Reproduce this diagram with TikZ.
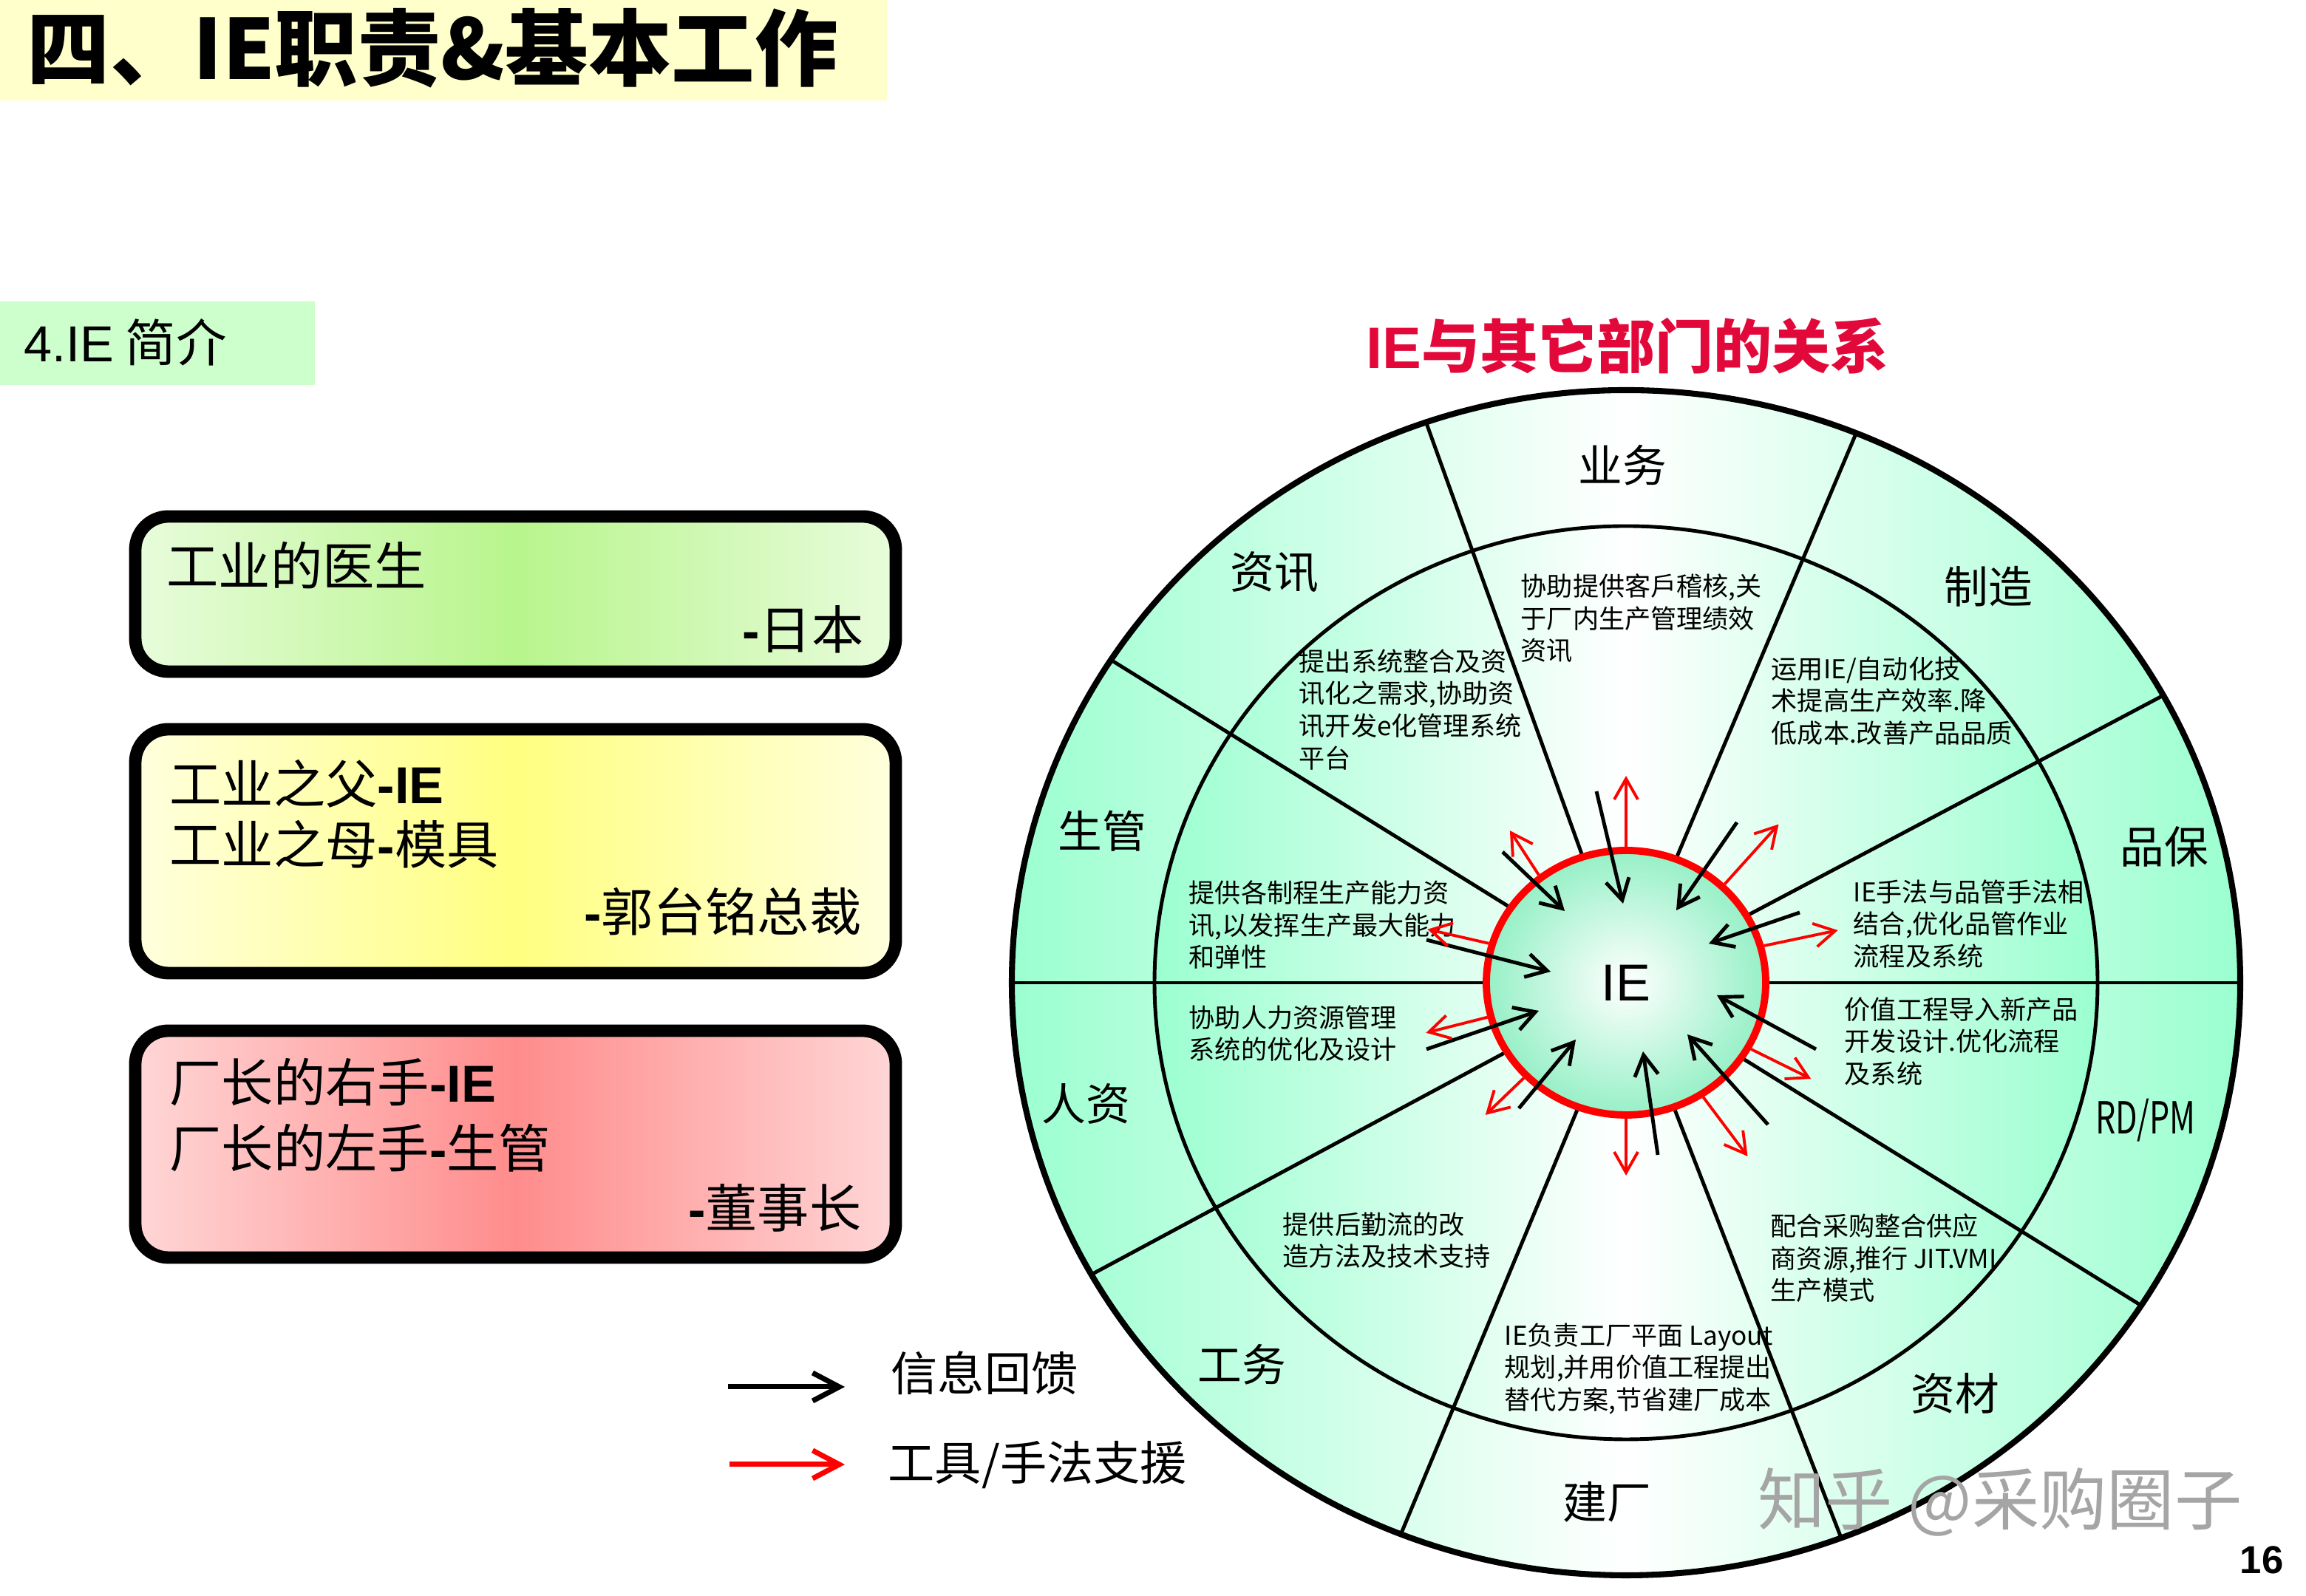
\documentclass[tikz,border=0pt]{standalone}
\usepackage{fontspec}
\usepackage{graphicx}
\setmainfont{Noto Sans CJK SC}
\newfontfamily\arial{Liberation Sans}
\usetikzlibrary{arrows.meta,shapes.geometric}

\definecolor{mint}{RGB}{155,255,208}
\definecolor{iemint}{RGB}{150,240,198}
\definecolor{titleyellow}{RGB}{255,255,204}
\definecolor{introgreen}{RGB}{204,255,204}
\definecolor{titlered}{RGB}{226,8,58}
\definecolor{greenmid}{RGB}{184,245,140}
\definecolor{greenedge}{RGB}{232,252,220}
\definecolor{yellowmid}{RGB}{255,255,128}
\definecolor{yellowedge}{RGB}{255,255,222}
\definecolor{redmid}{RGB}{255,140,140}
\definecolor{rededge}{RGB}{255,214,214}
\definecolor{markgray}{RGB}{165,165,165}

\begin{document}
\begin{tikzpicture}[
        >={Straight Barb[length=2.8mm,width=3.2mm]},
        spoke/.style={line width=1.4pt},
        info/.style={->,line width=1.4pt},
        tool/.style={->,red,line width=1.1pt},
        card/.style={draw,line width=4.8pt,rounded corners=4.5mm,inner sep=0pt,minimum width=10.29cm},
        cardtext/.style={inner sep=0pt,font=\fontsize{20}{24}\selectfont},
        dept/.style={inner sep=0pt,font=\fontsize{17}{20}\selectfont},
        duty/.style={anchor=north west,align=left,inner sep=0pt,font=\fontsize{10}{12.4}\selectfont},
        legendarrow/.style={->,line width=2pt,>={Straight Barb[length=3.6mm,width=3.8mm]}},
        legendtext/.style={anchor=west,inner sep=0pt,font=\fontsize{18}{22}\selectfont}
    ]
            \useasboundingbox (0,0) rectangle (31.2,21.6);

            \fill[titleyellow] (0,20.24) rectangle (12.0,21.6);
            \node[anchor=west,inner sep=0pt,font=\bfseries\fontsize{32}{36}\selectfont] (title) at (0.36,20.95) {四、IE职责\&基本工作};
            \fill[introgreen] (0,16.39) rectangle (4.26,17.52);
            \node[anchor=west,inner sep=0pt,font=\fontsize{19.5}{23}\selectfont] (intro) at (0.32,16.97) {{\arial 4.IE} 简介};

            \node[card,left color=greenedge,right color=greenedge,middle color=greenmid,minimum height=2.10cm] (doctor) at (6.975,13.56) {};
            \node[card,left color=yellowedge,right color=yellowedge,middle color=yellowmid,minimum height=3.30cm] (father) at (6.975,10.08) {};
            \node[card,left color=rededge,right color=rededge,middle color=redmid,minimum height=3.07cm] (hand) at (6.975,6.115) {};

            \node[cardtext,anchor=west] (doctor-a) at (2.25,13.95) {工业的医生};
            \node[cardtext,anchor=east] (doctor-b) at (11.69,13.08) {{\arial\bfseries -}日本};
            \node[cardtext,anchor=west] (father-a) at (2.29,10.99) {工业之父{\arial\bfseries -IE}};
            \node[cardtext,anchor=west] (father-b) at (2.29,10.17) {工业之母{\arial\bfseries -}模具};
            \node[cardtext,anchor=east] (father-c) at (11.66,9.26) {{\arial\bfseries -}郭台铭总裁};
            \node[cardtext,anchor=west] (hand-a) at (2.29,6.95) {厂长的右手{\arial\bfseries -IE}};
            \node[cardtext,anchor=west] (hand-b) at (2.29,6.06) {厂长的左手{\arial\bfseries -}生管};
            \node[cardtext,anchor=east] (hand-c) at (11.66,5.25) {{\arial\bfseries -}董事长};

            \node[inner sep=0pt,text=titlered,font=\bfseries\fontsize{22.5}{26}\selectfont] (relation) at (22.02,16.92) {{\arial\bfseries IE}与其它部门的关系};

            \shade[left color=mint,right color=mint,middle color=white] (22,8.3) ellipse [x radius=8.31,y radius=8.02];
            \shade[left color=mint,right color=mint,middle color=white] (22,8.3) ellipse [x radius=6.38,y radius=6.18];
            \draw[line width=1.4pt] (22,8.3) ellipse [x radius=6.38,y radius=6.18];
            \draw[line width=2.3pt] (22,8.3) ellipse [x radius=8.31,y radius=8.02];

            \node[ellipse,inner color=white,outer color=iemint,draw=red,line width=2.8pt,minimum width=3.78cm,minimum height=3.58cm,inner sep=0pt,font=\arial\fontsize{20}{24}\selectfont] (ie) at (22,8.3) {IE};

            \draw[spoke] (ie.109) -- (19.295,15.883);
            \draw[spoke] (ie.68) -- (25.113,15.736);
            \draw[spoke] (ie.29) -- (29.268,12.188);
            \draw[spoke] (ie.0) -- (30.31,8.3);
            \draw[spoke] (ie.-33) -- (28.969,3.932);
            \draw[spoke] (ie.-69.5) -- (24.910,0.788);
            \draw[spoke] (ie.-111.5) -- (18.954,0.838);
            \draw[spoke] (ie.-150.5) -- (14.767,4.351);
            \draw[spoke] (ie.180) -- (13.69,8.3);
            \draw[spoke] (ie.147) -- (15.031,12.668);

            \node[dept] (yewu) at (21.95,15.30) {业务};
            \node[dept] (zixun) at (17.24,13.86) {资讯};
            \node[dept] (zhizao) at (26.90,13.66) {制造};
            \node[dept] (shengguan) at (14.91,10.35) {生管};
            \node[dept] (pinbao) at (29.28,10.14) {品保};
            \node[dept] (renzi) at (14.69,6.66) {人资};
            \node[dept] (rdpm) at (29.03,6.44) {\scalebox{0.72}[1]{RD/PM}};
            \node[dept] (gongwu) at (16.80,3.13) {工务};
            \node[dept] (zicai) at (26.45,2.74) {资材};
            \node[dept] (jianchang) at (21.74,1.27) {建厂};

            \node[duty] (zixun-duty) at (17.57,12.82) {提出系统整合及资\\讯化之需求,协助资\\讯开发e化管理系统\\平台};
            \node[duty] (yewu-duty) at (20.57,13.84) {协助提供客戶稽核,关\\于厂内生产管理绩效\\资讯};
            \node[duty] (zhizao-duty) at (23.96,12.72) {运用IE/自动化技\\术提高生产效率.降\\低成本.改善产品品质};
            \node[duty] (shengguan-duty) at (16.08,9.69) {提供各制程生产能力资\\讯,以发挥生产最大能力\\和弹性};
            \node[duty] (pinbao-duty) at (25.07,9.70) {IE手法与品管手法相\\结合,优化品管作业\\流程及系统};
            \node[duty] (renzi-duty) at (16.08,8.00) {协助人力资源管理\\系统的优化及设计};
            \node[duty] (rdpm-duty) at (24.95,8.11) {价值工程导入新产品\\开发设计.优化流程\\及系统};
            \node[duty] (gongwu-duty) at (17.35,5.20) {提供后勤流的改\\造方法及技术支持};
            \node[duty] (zicai-duty) at (23.95,5.18) {配合采购整合供应\\商资源,推行 JIT.VMI\\生产模式};
            \node[duty] (jianchang-duty) at (20.35,3.70) {IE负责工厂平面 Layout\\规划,并用价值工程提出\\替代方案,节省建厂成本};

            \draw[info] (20.33,10.07) -- (21.17,9.27);
            \draw[info] (21.60,10.89) -- (21.96,9.37);
            \draw[info] (23.50,10.47) -- (22.68,9.28);
            \draw[info] (24.35,9.25) -- (23.12,8.83);
            \draw[info] (24.57,7.40) -- (23.23,8.13);
            \draw[info] (23.92,6.38) -- (22.83,7.60);
            \draw[info] (22.43,5.97) -- (22.23,7.37);
            \draw[info] (20.55,6.60) -- (21.32,7.53);
            \draw[info] (19.30,7.40) -- (20.82,7.92);
            \draw[info] (19.30,8.88) -- (20.98,8.45);

            \draw[tool] (ie.90) -- ++(0,0.96);
            \draw[tool] (ie.129.5) -- ++(-0.39,0.60);
            \draw[tool] (ie.45) -- ++(0.73,0.81);
            \draw[tool] (ie.15) -- ++(1.00,0.21);
            \draw[tool] (ie.-28) -- ++(0.81,-0.40);
            \draw[tool] (ie.-56) -- ++(0.60,-0.80);
            \draw[tool] (ie.-90) -- ++(0,-0.77);
            \draw[tool] (ie.-137) -- ++(-0.52,-0.50);
            \draw[tool] (ie.-166) -- ++(-0.83,-0.21);
            \draw[tool] (ie.164) -- ++(-0.83,0.19);

            \coordinate (feedback-from) at (9.85,2.83);
            \coordinate (feedback-to) at (11.43,2.83);
            \coordinate (support-from) at (9.87,1.78);
            \coordinate (support-to) at (11.43,1.78);
            \draw[legendarrow] (feedback-from) -- (feedback-to);
            \draw[legendarrow,red] (support-from) -- (support-to);
            \node[legendtext] (feedback) at (12.05,3.02) {信息回馈};
            \node[legendtext] (support) at (12.01,1.77) {工具/手法支援};

            \node[inner sep=0pt,text=markgray,font=\fontsize{26}{30}\selectfont] (watermark) at (27.06,1.27) {知乎 @采购圈子};
            \node[inner sep=0pt,font=\arial\bfseries\fontsize{15}{18}\selectfont] (pageno) at (30.6,0.49) {16};
        \end{tikzpicture}
\end{document}
